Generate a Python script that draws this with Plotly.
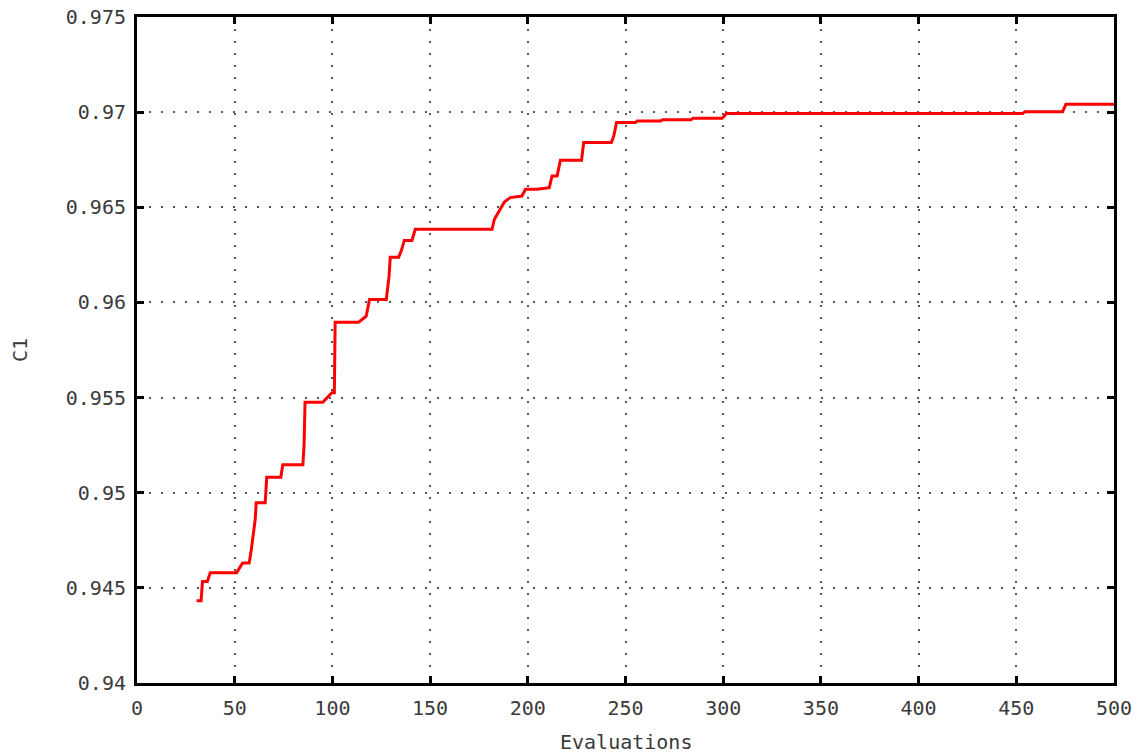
import plotly.graph_objects as go

evaluations = [30.5, 32.8, 33.5, 36.0, 37.5, 51.0, 54.0, 57.4, 58.5, 59.5, 60.5, 61.0, 65.6, 66.4, 73.6,
               74.6, 84.9, 85.5, 86.0, 95.1, 99.7, 101.0, 101.2, 101.4, 113.4, 117.3, 119.0, 127.6,
               129.0, 129.6, 133.9, 135.2, 136.8, 140.7, 142.4, 181.7, 182.9, 185.0, 188.0, 191.0,
               197.0, 198.8, 204.8, 211.0, 212.4, 215.0, 216.7, 227.5, 228.6, 242.8, 244.0, 245.4,
               255.0, 256.0, 268.0, 269.0, 283.6, 284.5, 299.5, 301.7, 453.2, 454.5, 473.7, 475.4, 500.0]
c1 = [0.94432, 0.94432, 0.94533, 0.94533, 0.94580, 0.94580, 0.94630, 0.94630, 0.94700, 0.94790,
      0.94860, 0.94947, 0.94947, 0.95081, 0.95081, 0.95147, 0.95147, 0.95253, 0.95475, 0.95475,
      0.95525, 0.95525, 0.95709, 0.95896, 0.95896, 0.95928, 0.96016, 0.96016, 0.96138, 0.96238,
      0.96238, 0.96270, 0.96326, 0.96326, 0.96384, 0.96384, 0.96437, 0.96472, 0.96528, 0.96551,
      0.96559, 0.96595, 0.96595, 0.96603, 0.96665, 0.96665, 0.96747, 0.96747, 0.96840, 0.96840,
      0.96875, 0.96945, 0.96945, 0.96954, 0.96954, 0.96960, 0.96960, 0.96968, 0.96968, 0.96993,
      0.96993, 0.97002, 0.97002, 0.97042, 0.97042]

x_ticks = [0, 50, 100, 150, 200, 250, 300, 350, 400, 450, 500]
y_ticks = [0.94, 0.945, 0.95, 0.955, 0.96, 0.965, 0.97, 0.975]
y_labels = ["0.94", "0.945", "0.95", "0.955", "0.96", "0.965", "0.97", "0.975"]

font_family = "DejaVu Sans Mono"
text_color = "#3a3a3a"

fig = go.Figure()
fig.add_trace(go.Scatter(x=evaluations, y=c1, mode="lines",
                         line=dict(color="#ff0000", width=3), showlegend=False))

axis_common = dict(
    showline=True, linecolor="black", linewidth=3, mirror="ticks",
    ticks="inside", ticklen=7, tickwidth=3, tickcolor="black",
    showgrid=True, gridcolor="#555555", gridwidth=1.5, griddash="2px,10px",
    zeroline=False, automargin=False,
    tickfont=dict(family=font_family, size=20, color=text_color),
)

fig.update_xaxes(range=[0, 500], tickvals=x_ticks, ticktext=[str(v) for v in x_ticks],
                 ticklabelstandoff=5, **axis_common)
fig.update_yaxes(range=[0.94, 0.975], tickvals=y_ticks, ticktext=y_labels,
                 ticklabelstandoff=4, **axis_common)

fig.add_annotation(text="Evaluations", xref="paper", yref="paper", x=0.5, y=0,
                   xanchor="center", yanchor="middle", yshift=-59, showarrow=False,
                   font=dict(family=font_family, size=20, color=text_color))
fig.add_annotation(text="C1", xref="paper", yref="paper", x=0, y=0.5,
                   xanchor="center", yanchor="middle", xshift=-117, textangle=-90,
                   showarrow=False, font=dict(family=font_family, size=20, color=text_color))

fig.update_layout(
    width=1146, height=755,
    margin=dict(l=137, r=32, t=17, b=72),
    plot_bgcolor="white", paper_bgcolor="white",
)

fig.write_html("out.html")
